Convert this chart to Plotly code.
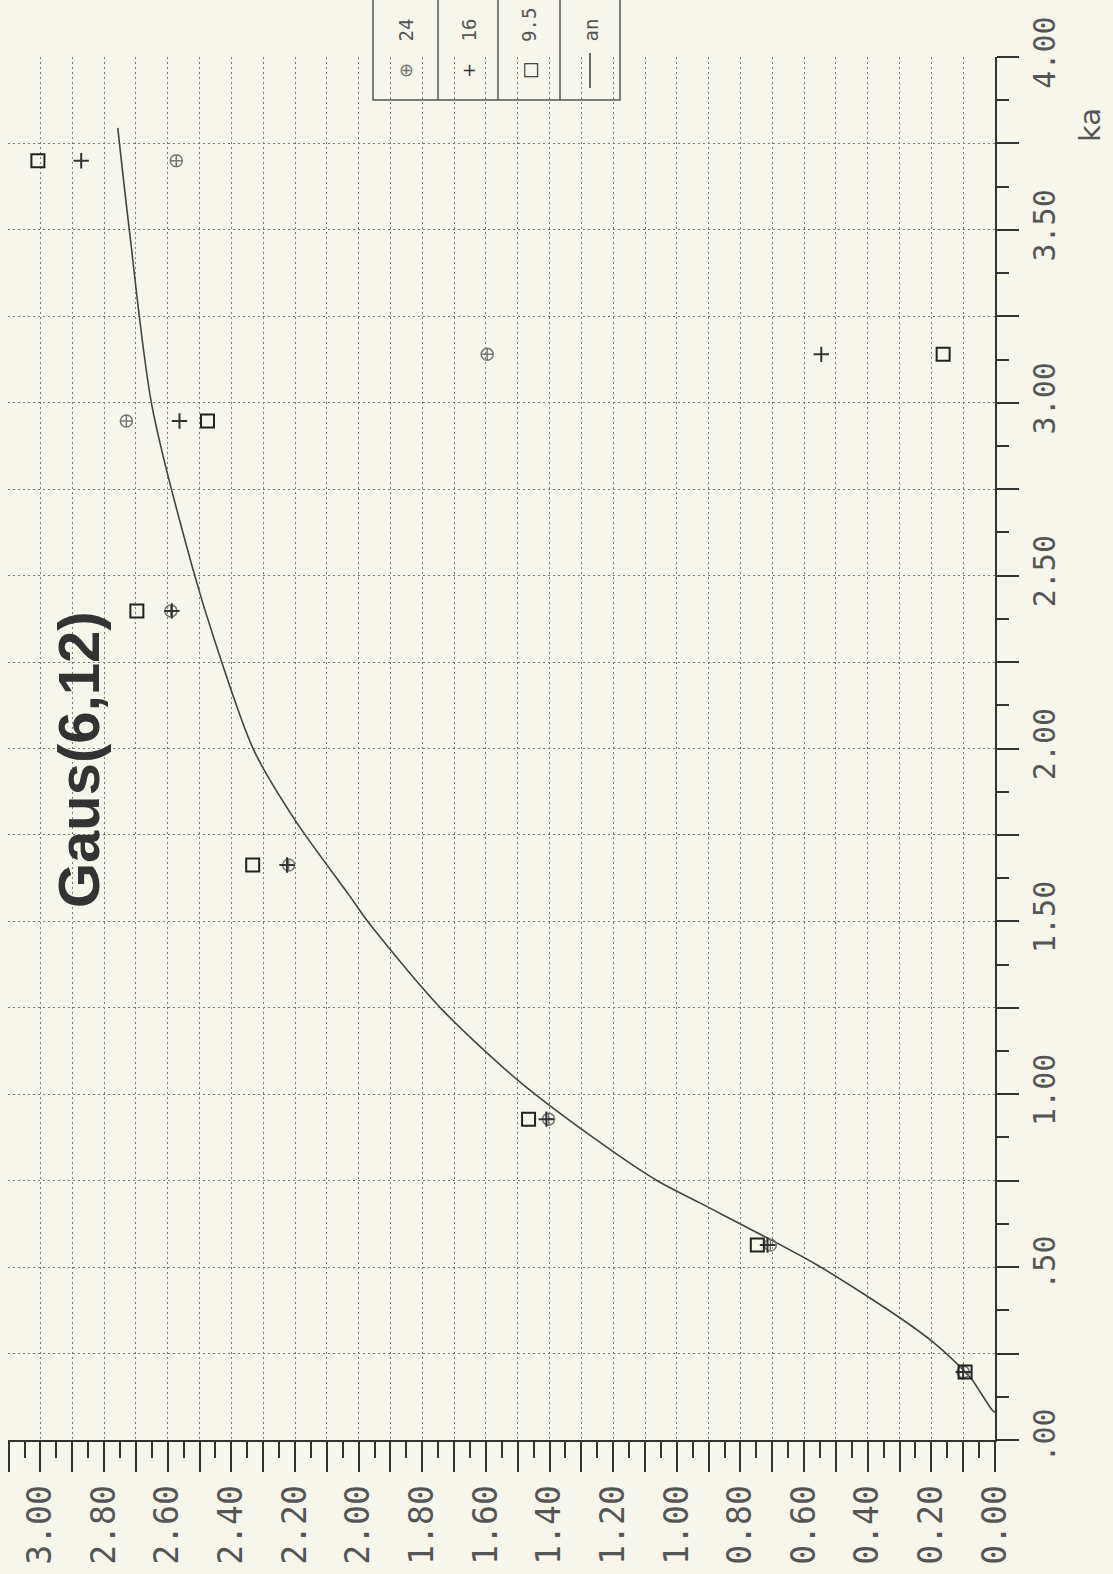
import numpy as np
import plotly.graph_objects as go

# ---------------- data ----------------
names = ["24", "16", "9.5", "an"]
ka_pts = [0.197, 0.564, 0.928, 1.663, 2.398, 2.947, 3.14, 3.70]
s24 = [0.10, 0.706, 1.403, 2.22, 2.59, 2.73, 1.596, 2.573]
s16 = [0.10, 0.715, 1.41, 2.225, 2.587, 2.563, 0.546, 2.872]
s95 = [0.094, 0.747, 1.466, 2.333, 2.697, 2.475, 0.163, 3.008]

ka_curve = [0.08, 0.087, 0.174, 0.197, 0.278, 0.347, 0.506, 0.685, 0.749, 0.873,
            1.041, 1.247, 1.498, 1.576, 1.793, 1.996, 2.305, 2.516, 2.993, 3.494, 3.795]
v_curve = [0.0, 0.009, 0.072, 0.094, 0.188, 0.289, 0.559, 0.926, 1.06, 1.26,
           1.50, 1.74, 1.97, 2.03, 2.20, 2.33, 2.45, 2.52, 2.65, 2.72, 2.757]

v_ticks = [round(0.1 * i, 2) for i in range(32)]
v_ticktext = [f"{v:.2f}" if i % 2 == 0 else "" for i, v in enumerate(v_ticks)]
ka_ticks = [0.25 * i for i in range(17)]
ka_ticktext = [(f"{k:.2f}".lstrip("0") if k < 1 else f"{k:.2f}") if i % 2 == 0 else ""
               for i, k in enumerate(ka_ticks)]

title_text = "Gaus(6,12)"
ka_title = "ka"

# ---------------- layout geometry ----------------
W, H = 1113, 1574
L, R, T, B = 8, 118, 57, 134
PW = W - L - R
PH = H - T - B


def px(x):
    return (x - L) / PW


def py(y):
    return (H - B - y) / PH


BG = "#f6f6ec"
INK = "#333333"
LBL = "#555555"

fig = go.Figure()

fig.add_trace(go.Scatter(x=v_curve, y=ka_curve, mode="lines", name=names[3],
                         line=dict(color="#444444", width=1.6, shape="spline", smoothing=0.8)))
fig.add_trace(go.Scatter(x=s24, y=ka_pts, mode="markers", name=names[0],
                         marker=dict(symbol="circle-cross-open", size=12,
                                     color="#777777", line=dict(width=1.5))))
fig.add_trace(go.Scatter(x=s16, y=ka_pts, mode="markers", name=names[1],
                         marker=dict(symbol="cross-thin-open", size=11,
                                     color="#333333", line=dict(width=2))))
fig.add_trace(go.Scatter(x=s95, y=ka_pts, mode="markers", name=names[2],
                         marker=dict(symbol="square-open", size=13,
                                     color="#222222", line=dict(width=2))))

GRID_DASH = "2px,3px"
fig.update_xaxes(range=[3.102, 0], tickmode="array", tickvals=v_ticks, ticktext=v_ticktext,
                 tickangle=-90, ticks="outside", ticklen=30, tickwidth=2, tickcolor=INK,
                 tickfont=dict(family="DejaVu Sans Mono", size=33, color=LBL),
                 minor=dict(dtick=0.05, tick0=0, ticklen=16, tickwidth=2, tickcolor=INK,
                            ticks="outside", showgrid=False),
                 showgrid=True, gridcolor="#7a7a7a", griddash=GRID_DASH, gridwidth=1.3,
                 showline=True, linecolor=INK, linewidth=2, zeroline=False)
fig.update_yaxes(range=[0, 4.0], side="right", tickmode="array", tickvals=ka_ticks,
                 ticktext=ka_ticktext, tickangle=-90, ticks="outside", ticklen=22,
                 tickwidth=2, tickcolor=INK,
                 tickfont=dict(family="DejaVu Sans Mono", size=30, color=LBL),
                 minor=dict(dtick=0.125, tick0=0, ticklen=12, tickwidth=2, tickcolor=INK,
                            ticks="outside", showgrid=False),
                 showgrid=True, gridcolor="#7a7a7a", griddash=GRID_DASH, gridwidth=1.3,
                 showline=True, linecolor=INK, linewidth=2, zeroline=False)

shapes = []
# legend box (cut at top of the page)
shapes.append(dict(type="rect", xref="paper", yref="paper", x0=px(373), x1=px(620),
                   y0=py(100), y1=py(-5), line=dict(color="#555555", width=1.5)))
for xd in [438, 498, 560]:
    shapes.append(dict(type="line", xref="paper", yref="paper", x0=px(xd), x1=px(xd),
                       y0=py(100), y1=py(-5), line=dict(color="#555555", width=1.5)))
# legend line sample
shapes.append(dict(type="line", xref="paper", yref="paper", x0=px(590), x1=px(590),
                   y0=py(88), y1=py(53), line=dict(color="#444444", width=1.6)))

annotations = []
col_x = [405, 468, 529, 590]
sym = ["⊕", "+", "□"]
sym_col = ["#777777", "#333333", "#222222"]
for i in range(3):
    annotations.append(dict(xref="paper", yref="paper", x=px(col_x[i]), y=py(71),
                            text=sym[i], showarrow=False, textangle=-90,
                            font=dict(family="DejaVu Sans", size=18, color=sym_col[i]),
                            xanchor="center", yanchor="middle"))
for i in range(4):
    annotations.append(dict(xref="paper", yref="paper", x=px(col_x[i]), y=py(44),
                            text=names[i], showarrow=False, textangle=-90,
                            font=dict(family="DejaVu Sans Mono", size=19, color=LBL),
                            xanchor="center", yanchor="bottom"))
# title
annotations.append(dict(xref="paper", yref="paper", x=px(78), y=py(760), text=f"<b>{title_text}</b>",
                        showarrow=False, textangle=-90,
                        font=dict(family="Liberation Sans", size=58, color="#333333"),
                        xanchor="center", yanchor="middle"))
# ka axis title
annotations.append(dict(xref="paper", yref="paper", x=px(1090), y=py(125), text=ka_title,
                        showarrow=False, textangle=-90,
                        font=dict(family="DejaVu Sans", size=29, color=LBL),
                        xanchor="center", yanchor="middle"))

fig.update_layout(width=W, height=H, margin=dict(l=L, r=R, t=T, b=B, autoexpand=False),
                  paper_bgcolor=BG, plot_bgcolor=BG, showlegend=False,
                  shapes=shapes, annotations=annotations)

fig.write_html("out.html", config={"displayModeBar": False},
               post_script="document.body.style.margin='0';document.body.style.overflow='hidden';")
